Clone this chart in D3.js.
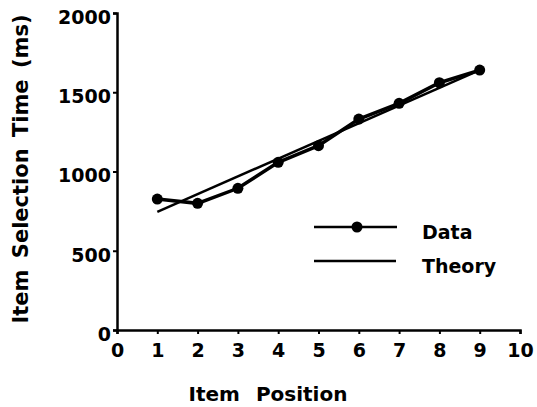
<!DOCTYPE html>
<html>
<head>
<meta charset="utf-8">
<style>
  body { margin: 0; background: #fff; }
  text { font-family: "DejaVu Sans", sans-serif; font-weight: bold; fill: #000; }
</style>
</head>
<body>
<svg id="chart" width="537" height="407"></svg>
<script src="https://cdnjs.cloudflare.com/ajax/libs/d3/7.8.5/d3.min.js"></script>
<script>
// values
const positions = [1, 2, 3, 4, 5, 6, 7, 8, 9]
const selectionTimes = [826, 799, 894, 1058, 1163, 1331, 1430, 1560, 1640]
const theoryX = [1, 9]
const theoryY = [745, 1640]
const xTicks = [0, 1, 2, 3, 4, 5, 6, 7, 8, 9, 10]
const yTicks = [0, 500, 1000, 1500, 2000]

const svg = d3.select('#chart')

const x = d3.scaleLinear().domain([0, 10]).range([117, 520])
const y = d3.scaleLinear().domain([0, 2000]).range([330, 13])

// axes
const xAxis = svg.append('g')
  .attr('transform', 'translate(0,330)')
  .call(d3.axisBottom(x).tickValues(xTicks).tickFormat(d3.format('d')).tickSize(4).tickPadding(10))
const yAxis = svg.append('g')
  .attr('transform', 'translate(117,0)')
  .call(d3.axisLeft(y).tickValues(yTicks).tickFormat(d3.format('d')).tickSize(4).tickPadding(2))

for (const ax of [xAxis, yAxis]) {
  ax.select('.domain').attr('stroke', '#000').attr('stroke-width', 2.5)
  ax.selectAll('.tick line').attr('stroke', '#000').attr('stroke-width', 2)
  ax.selectAll('.tick text').style('font-size', '19px').attr('fill', '#000')
}
yAxis.selectAll('.tick text').attr('dy', '0.55em')

// axis titles
svg.append('text')
  .attr('x', 268).attr('y', 401)
  .attr('text-anchor', 'middle')
  .style('font-size', '20px')
  .style('word-spacing', '9px')
  .text('Item Position')

svg.append('text')
  .attr('transform', 'translate(28,169) rotate(-90)')
  .attr('text-anchor', 'middle')
  .style('font-size', '21px')
  .style('word-spacing', '4px')
  .text('Item Selection Time (ms)')

// theory line
const theory = theoryX.map((v, i) => [v, theoryY[i]])
svg.append('path')
  .datum(theory)
  .attr('fill', 'none')
  .attr('stroke', '#000')
  .attr('stroke-width', 2.5)
  .attr('d', d3.line().x(d => x(d[0])).y(d => y(d[1])))

// data line + dots
const data = positions.map((p, i) => ({ p, t: selectionTimes[i] }))
svg.append('path')
  .datum(data)
  .attr('fill', 'none')
  .attr('stroke', '#000')
  .attr('stroke-width', 3.5)
  .attr('d', d3.line().x(d => x(d.p)).y(d => y(d.t)))

svg.selectAll('circle.pt')
  .data(data)
  .enter()
  .append('circle')
  .attr('class', 'pt')
  .attr('cx', d => x(d.p))
  .attr('cy', d => y(d.t))
  .attr('r', 5.5)
  .attr('fill', '#000')

// legend
const legend = svg.append('g')
legend.append('line').attr('x1', 314).attr('x2', 397).attr('y1', 227).attr('y2', 227)
  .attr('stroke', '#000').attr('stroke-width', 2.5)
legend.append('circle').attr('cx', 357).attr('cy', 227).attr('r', 5.5).attr('fill', '#000')
legend.append('text').attr('x', 422).attr('y', 239).style('font-size', '19px').text('Data')
legend.append('line').attr('x1', 314).attr('x2', 396).attr('y1', 261).attr('y2', 261)
  .attr('stroke', '#000').attr('stroke-width', 2.5)
legend.append('text').attr('x', 422).attr('y', 273).style('font-size', '19px').text('Theory')
</script>
</body>
</html>
